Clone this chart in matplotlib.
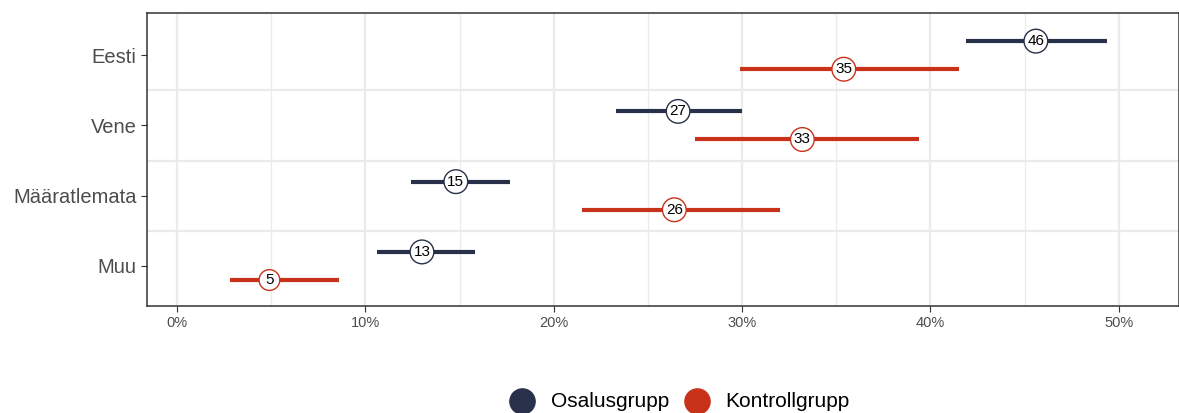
import numpy as np
import matplotlib.pyplot as plt

plt.rcParams["font.family"] = ["Liberation Sans", "DejaVu Sans"]

categories = ["Eesti", "Vene", "Määratlemata", "Muu"]
groups = ["Osalusgrupp", "Kontrollgrupp"]

osalus_mean = [45.6, 26.6, 14.8, 13.0]
osalus_lo = [41.9, 23.3, 12.4, 10.6]
osalus_hi = [49.4, 30.0, 17.7, 15.8]

kontroll_mean = [35.4, 33.2, 26.4, 4.9]
kontroll_lo = [29.9, 27.5, 21.5, 2.8]
kontroll_hi = [41.5, 39.4, 32.0, 8.6]

colors = ["#283149", "#C9321A"]

fig = plt.figure(figsize=(11.79, 4.13), dpi=100)
ax = fig.add_axes([0.1247, 0.259, 0.8753, 0.7095])

ypos = np.arange(len(categories))[::-1] + 1.0
offsets = [0.2, -0.2]
series = [(osalus_mean, osalus_lo, osalus_hi), (kontroll_mean, kontroll_lo, kontroll_hi)]

for (mean, lo, hi), off, col, name in zip(series, offsets, colors, groups):
    y = ypos + off
    ax.hlines(y, lo, hi, color=col, lw=3, zorder=3)
    for xv, yv in zip(mean, y):
        ax.annotate(f"{xv:.0f}", (xv, yv), ha="center", va="center", fontsize=11,
                    color="black", zorder=4,
                    bbox=dict(boxstyle="circle,pad=0.22", fc="white", ec=col, lw=1))
    ax.scatter([], [], s=330, color=col, label=name)

ax.set_xlim(-1.6, 53.2)
ax.set_ylim(0.43, 4.6)
ax.set_xticks(np.arange(0, 51, 10))
ax.set_xticklabels([f"{v}%" for v in range(0, 51, 10)])
ax.set_xticks(np.arange(5, 51, 10), minor=True)
ax.set_yticks(ypos)
ax.set_yticklabels(categories)
ax.set_yticks([1.5, 2.5, 3.5], minor=True)

ax.grid(which="major", axis="x", color="#EBEBEB", lw=1.6)
ax.grid(which="minor", axis="x", color="#EBEBEB", lw=0.9)
ax.grid(which="minor", axis="y", color="#EBEBEB", lw=1.6)
ax.set_axisbelow(True)

ax.tick_params(axis="x", which="major", labelsize=10.5, labelcolor="#4D4D4D", color="#333333", length=4)
ax.tick_params(axis="y", which="major", labelsize=14.5, labelcolor="#4D4D4D", color="#333333", length=4)
ax.tick_params(which="minor", length=0)
for s in ax.spines.values():
    s.set_color("#333333")
    s.set_linewidth(1.1)

fig.legend(loc="center", bbox_to_anchor=(0.573, 0.028), ncol=2, frameon=False,
           fontsize=15, handletextpad=0.4, columnspacing=0.3)

fig.savefig("out.png", dpi=100)
